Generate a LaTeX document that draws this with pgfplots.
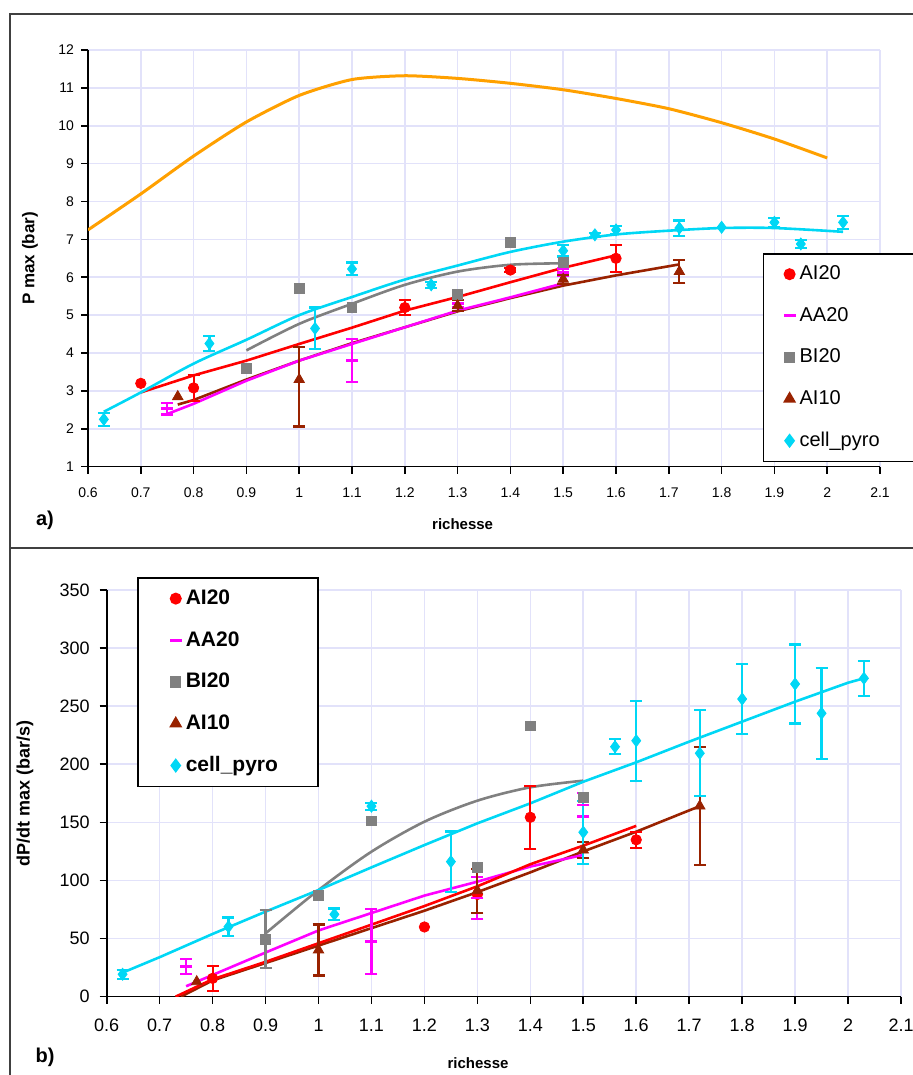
\documentclass[border=0pt]{standalone}
\usepackage{fontspec}
\setmainfont{Liberation Sans}
\usepackage{pgfplots}
\pgfplotsset{compat=1.18}
\definecolor{cOr}{RGB}{255,160,0}
\definecolor{cCy}{RGB}{0,215,245}
\definecolor{cRd}{RGB}{255,0,0}
\definecolor{cMg}{RGB}{255,0,255}
\definecolor{cGr}{RGB}{128,128,128}
\definecolor{cBr}{RGB}{153,34,0}
\definecolor{cGrid}{RGB}{226,226,250}
\pgfplotsset{
  myaxis/.style={
    scale only axis, axis lines=left, axis line style={-, black, line width=0.8pt},
    tick align=outside, major tick length=3.5pt, tick style={black, line width=0.8pt},
    grid=major, major grid style={cGrid, line width=0.8pt},
    xmin=0.6, xmax=2.1,
    xtick={0.6,0.7,0.8,0.9,1,1.1,1.2,1.3,1.4,1.5,1.6,1.7,1.8,1.9,2,2.1},
    /pgf/number format/assume math mode=true,
    legend cell align=left,
  },
  trend/.style={no marks, line width=1.3pt, forget plot},
  ebar/.style={error bars/.cd, y dir=both, y explicit,
     error bar style={line width=1.1pt}, error mark options={rotate=90, line width=1.1pt, mark size=3pt}},
  sAI20/.style={only marks, mark=*, color=cRd, mark size=2.6pt},
  sAA20/.style={only marks, mark=-, color=cMg, mark size=3pt, mark options={line width=1.3pt}},
  sBI20/.style={only marks, mark=square*, color=cGr, mark size=2.4pt},
  sAI10/.style={only marks, mark=triangle*, color=cBr, mark size=3pt},
  sCP/.style={only marks, mark=diamond*, color=cCy, mark size=3pt},
}
\begin{document}
\begin{tikzpicture}
\useasboundingbox (0,0) rectangle (456.5pt,537.5pt);
\draw[line width=0.8pt, black!75] (5pt,263.5pt) rectangle (475pt,530.5pt);
\draw[line width=0.8pt, black!75] (5pt,-10pt) rectangle (475pt,263.5pt);
\node[font=\bfseries\fontsize{10}{12}\selectfont] at (22.5pt,277.5pt) {a)};
\node[font=\bfseries\fontsize{10}{12}\selectfont] at (22.5pt,9pt) {b)};

% ---------------- a) ----------------
\begin{axis}[myaxis, at={(44pt,304.15pt)}, anchor=south west,
  width=396pt, height=208.35pt, ymin=1, ymax=12, ytick={1,2,3,4,5,6,7,8,9,10,11,12},
  ticklabel style={font=\fontsize{7}{8}\selectfont},
  xticklabel style={yshift=-3.5pt},
  xlabel={richesse}, ylabel={P max (bar)},
  xlabel style={at={(axis description cs:0.473,-0.1375)}, anchor=center, font=\bfseries\fontsize{7.5}{9}\selectfont},
  ylabel style={at={(axis description cs:-0.0732,0.5)}, anchor=center, font=\bfseries\fontsize{8.5}{10}\selectfont},
  legend style={at={(axis description cs:0.852,0.513)}, anchor=north west, draw=black, line width=0.8pt,
    font=\fontsize{10}{12}\selectfont, row sep=8.3pt, inner ysep=4pt, inner xsep=10pt},
]
\addplot[cOr, line width=1.5pt, forget plot, smooth, tension=0.4] coordinates {
 (0.6,7.25)(0.7,8.2)(0.8,9.2)(0.9,10.1)(1.0,10.8)(1.1,11.22)(1.2,11.32)(1.3,11.25)
 (1.4,11.12)(1.5,10.95)(1.6,10.72)(1.7,10.45)(1.8,10.08)(1.9,9.65)(2.0,9.15)};
\addplot[trend, cGr, smooth] coordinates {(0.9,4.07)(1.0,4.77)(1.1,5.3)(1.2,5.8)(1.3,6.15)(1.4,6.33)(1.5,6.37)};
\addplot[trend, cBr] coordinates {(0.77,2.64)(0.8,2.76)(0.9,3.3)(1.0,3.8)(1.1,4.26)(1.2,4.68)(1.3,5.1)(1.4,5.45)(1.5,5.78)(1.6,6.05)(1.72,6.34)};
\addplot[trend, cMg] coordinates {(0.75,2.39)(0.8,2.66)(0.9,3.27)(1.0,3.8)(1.1,4.24)(1.2,4.68)(1.3,5.12)(1.4,5.47)(1.5,5.84)};
\addplot[trend, cRd] coordinates {(0.7,2.96)(0.8,3.41)(0.9,3.8)(1.0,4.24)(1.1,4.67)(1.2,5.12)(1.3,5.48)(1.4,5.87)(1.5,6.25)(1.6,6.58)};
\addplot[trend, cCy, smooth] coordinates {(0.63,2.45)(0.7,2.96)(0.8,3.72)(0.9,4.35)(1.0,5.0)(1.1,5.48)(1.2,5.94)(1.3,6.31)(1.4,6.67)(1.5,6.94)(1.6,7.13)(1.7,7.23)(1.8,7.3)(1.9,7.3)(2.03,7.2)};

\addplot[sAI20, ebar] coordinates {(0.8,3.08) +- (0,0.35) (1.2,5.2) +- (0,0.2) (1.4,6.19) +- (0,0.06) (1.6,6.5) +- (0,0.36)};
\addlegendentry{AI20}
\addplot[sAI20, forget plot] coordinates {(0.7,3.2)};
\addplot[sAA20, ebar] coordinates {(0.75,2.53) +- (0,0.15) (1.1,3.8) +- (0,0.57) (1.3,5.3) +- (0,0.1) (1.5,6.13) +- (0,0.1)};
\addlegendentry{AA20}
\addplot[sBI20] coordinates {(0.9,3.6)(1.0,5.7)(1.1,5.2)(1.3,5.55)(1.4,6.92)(1.5,6.4)};
\addlegendentry{BI20}
\addplot[sAI10, ebar] coordinates {(1.0,3.3) += (0,0.87) -= (0,1.24) (1.3,5.25) +- (0,0.15) (1.5,5.95) +- (0,0.12) (1.72,6.15) +- (0,0.3)};
\addlegendentry{AI10}
\addplot[sAI10, forget plot] coordinates {(0.77,2.85)};
\addplot[sCP, ebar] coordinates {(0.63,2.25) +- (0,0.17) (0.83,4.25) +- (0,0.2) (1.03,4.65) +- (0,0.55)
 (1.1,6.22) +- (0,0.17) (1.25,5.8) +- (0,0.08) (1.5,6.7) +- (0,0.15) (1.56,7.12) +- (0,0.05)
 (1.6,7.25) +- (0,0.1) (1.72,7.3) +- (0,0.2) (1.9,7.45) +- (0,0.12) (1.95,6.88) +- (0,0.1) (2.03,7.45) +- (0,0.17)};
\addlegendentry{cell\_pyro\hspace*{14pt}}
\addplot[sCP, forget plot] coordinates {(1.8,7.32)};
\end{axis}

% ---------------- b) ----------------
\begin{axis}[myaxis, at={(53.35pt,39.15pt)}, anchor=south west,
  width=397.15pt, height=203.35pt, ymin=0, ymax=350, ytick={0,50,100,150,200,250,300,350},
  ticklabel style={font=\fontsize{9}{10}\selectfont},
  xticklabel style={yshift=-4pt}, yticklabel style={xshift=-1.5pt},
  xlabel={richesse}, ylabel={dP/dt max (bar/s)},
  xlabel style={at={(axis description cs:0.4675,-0.163)}, anchor=center, font=\bfseries\fontsize{7.5}{9}\selectfont},
  ylabel style={at={(axis description cs:-0.103,0.5)}, anchor=center, font=\bfseries\fontsize{9}{11}\selectfont},
  legend style={at={(axis description cs:0.0381,1.032)}, anchor=north west, draw=black, line width=0.8pt,
    font=\bfseries\fontsize{10.5}{12}\selectfont, row sep=8pt, inner ysep=4pt, inner xsep=16pt},
]
\addplot[trend, cGr, smooth] coordinates {(0.9,54.5)(1.0,91.8)(1.1,124.8)(1.2,150.6)(1.3,168.7)(1.4,180.2)(1.5,185.9)};
\addplot[trend, cBr] coordinates {(0.74,0)(0.8,14)(0.9,29)(1.0,44)(1.1,59)(1.2,74)(1.3,90)(1.4,107)(1.5,125)(1.6,142)(1.72,164)};
\addplot[trend, cMg] coordinates {(0.75,9)(0.8,18.7)(0.9,38)(1.0,57)(1.1,72)(1.2,87)(1.3,99)(1.4,112)(1.5,122)};
\addplot[trend, cRd] coordinates {(0.73,0)(0.8,15)(0.9,30)(1.0,46)(1.1,62)(1.2,78)(1.3,95)(1.4,114)(1.5,130)(1.6,147)};
\addplot[trend, cCy] coordinates {(0.63,20.7)(0.7,34)(0.8,54)(0.9,73.2)(1.0,91.8)(1.1,111.3)(1.2,130.5)(1.3,149.2)(1.4,166.4)(1.5,185)(1.6,201.7)(1.7,219.5)(1.8,236.7)(1.9,253.9)(2.0,270.2)(2.03,274)};

\addplot[sAI20, ebar] coordinates {(0.8,15.8) +- (0,10.6) (1.4,154.4) +- (0,27) (1.6,135) +- (0,7)};
\addlegendentry{AI20}
\addplot[sAI20, forget plot] coordinates {(1.2,60)(1.3,88)};
\addplot[sAA20, ebar] coordinates {(0.75,25.8) +- (0,6.5) (1.1,47.3) +- (0,28) (1.3,85) +- (0,18) (1.5,165) +- (0,10)};
\addlegendentry{AA20}
\addplot[sBI20, ebar] coordinates {(0.9,49.4) +- (0,25)};
\addlegendentry{BI20}
\addplot[sBI20, forget plot] coordinates {(1.0,87)(1.1,151.2)(1.3,111.4)(1.4,233)(1.5,171.6)};
\addplot[sAI10, ebar] coordinates {(1.0,40.2) +- (0,22) (1.3,91.2) +- (0,19) (1.5,126.2) +- (0,7) (1.72,164.1) +- (0,51)};
\addlegendentry{AI10}
\addplot[sAI10, forget plot] coordinates {(0.77,12.9)};
\addplot[sCP, ebar] coordinates {(0.63,19.3) +- (0,4) (0.83,60.2) +- (0,8) (1.03,70.9) +- (0,5)
 (1.1,164) +- (0,3) (1.25,116.2) +- (0,26) (1.5,141.5) +- (0,27) (1.56,215.1) +- (0,6.5)
 (1.6,220.3) +- (0,34.5) (1.72,209.5) +- (0,37) (1.8,256.2) +- (0,30) (1.9,269.1) +- (0,34)
 (1.95,243.9) +- (0,39) (2.03,274) +- (0,15)};
\addlegendentry{cell\_pyro\hspace*{2pt}}
\end{axis}
\end{tikzpicture}
\end{document}
